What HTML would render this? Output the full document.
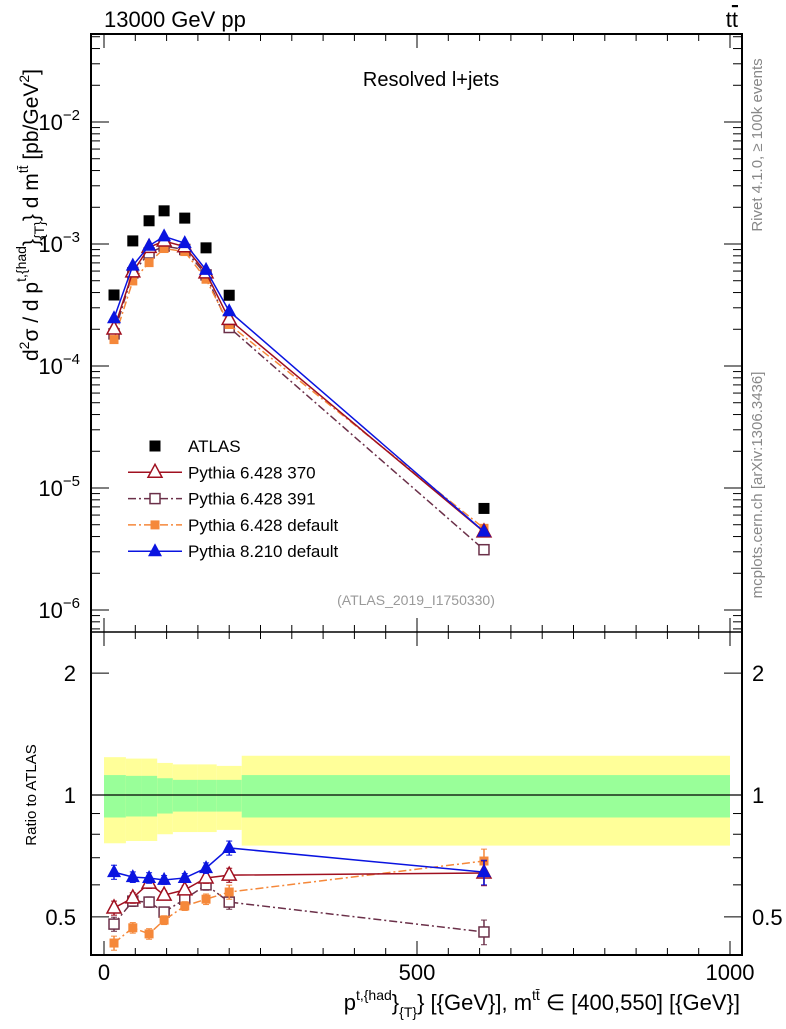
<!DOCTYPE html>
<html><head><meta charset="utf-8"><style>
body{margin:0;background:#fff;}
svg text{font-family:"Liberation Sans",sans-serif;}
</style></head><body>
<svg id="c" width="786" height="1024" xmlns="http://www.w3.org/2000/svg"></svg>
<script>
const xCenters=[16,46,72,96,129,163,200,607];
const binEdges=[0,35,60,85,110,150,180,220,1000];
const atlas=[3.82e-4,1.06e-3,1.55e-3,1.87e-3,1.63e-3,9.3e-4,3.8e-4,6.8e-6];
const bandInner=[0.12,0.115,0.115,0.1,0.09,0.09,0.09,0.12];
const bandOuter=[0.24,0.23,0.23,0.2,0.19,0.19,0.18,0.25];
const r8210=[0.645,0.627,0.624,0.617,0.624,0.66,0.74,0.645];
const r370=[0.526,0.557,0.606,0.566,0.583,0.624,0.634,0.642];
const r391=[0.48,0.547,0.544,0.514,0.553,0.60,0.544,0.459];
const r6def=[0.431,0.47,0.454,0.491,0.532,0.553,0.576,0.687];
const rErr=[0.04,0.03,0.03,0.025,0.025,0.03,0.04,0.07];
const yTicksMain=[-6,-5,-4,-3,-2];
const yTicksRatio=[0.5,1,2];
const xTicks=[0,500,1000];

const S=document.getElementById('c'),NS='http://www.w3.org/2000/svg';
const L=91,R=742,T=34,MB=632,RB=955;
const X=v=>104+v*0.626;
const Ym=v=>122-(Math.log10(v)+2)*122;
const Yr=v=>795-Math.log10(v)*405;
function el(t,a,p){const e=document.createElementNS(NS,t);for(const k in a)e.setAttribute(k,a[k]);(p||S).appendChild(e);return e;}
function tx(x,y,s,sz,anc,fill,p){const e=el('text',{x:x,y:y,'font-size':sz,'text-anchor':anc||'start',fill:fill||'#000'},p);e.textContent=s;return e;}

const gb=el('g',{});


for(let i=0;i<xCenters.length;i++){
  const x0=X(binEdges[i]),x1=X(binEdges[i+1]);
  el('rect',{x:x0,y:Yr(1+bandOuter[i]),width:x1-x0,height:Yr(1-bandOuter[i])-Yr(1+bandOuter[i]),fill:'#ffff99'},gb);
  el('rect',{x:x0,y:Yr(1+bandInner[i]),width:x1-x0,height:Yr(1-bandInner[i])-Yr(1+bandInner[i]),fill:'#99ff99'},gb);
}
el('line',{x1:L,x2:R,y1:Yr(1),y2:Yr(1),stroke:'#000','stroke-width':1.2});

el('rect',{x:L,y:T,width:R-L,height:RB-T,fill:'none',stroke:'#000','stroke-width':2});
el('line',{x1:L,x2:R,y1:MB,y2:MB,stroke:'#000','stroke-width':1.5});

for(let v=0;v<=1000;v+=50){const x=X(v),big=v%500===0?1:0;const h=big?14:7;
  for(const yb of [MB,RB]) el('line',{x1:x,x2:x,y1:yb,y2:yb-h,stroke:'#000'});
  el('line',{x1:x,x2:x,y1:T,y2:T+h,stroke:'#000'});el('line',{x1:x,x2:x,y1:MB,y2:MB+h,stroke:'#000'});}
xTicks.forEach(v=>{const t=tx(X(v),980,String(v),22,'middle');});
yTicksMain.forEach(p=>{
  const y=Ym(Math.pow(10,p));
  el('line',{x1:L,x2:L+18,y1:y,y2:y,stroke:'#000'});el('line',{x1:R,x2:R-18,y1:y,y2:y,stroke:'#000'});
  for(let m=2;m<10;m++){const ym=Ym(m*Math.pow(10,p));if(ym<T)continue;el('line',{x1:L,x2:L+9,y1:ym,y2:ym,stroke:'#000'});el('line',{x1:R,x2:R-9,y1:ym,y2:ym,stroke:'#000'});}
  const t=el('text',{x:80,y:y+8,'font-size':22,'text-anchor':'end'});
  
  t.innerHTML='10<tspan dy="-10" font-size="15">'+(p<0?'\u2212':'')+Math.abs(p)+'</tspan>';
});
for(let m=2;m<10;m++){const ym=Ym(m*1e-7);if(ym<MB){el('line',{x1:L,x2:L+9,y1:ym,y2:ym,stroke:'#000'});el('line',{x1:R,x2:R-9,y1:ym,y2:ym,stroke:'#000'});}}
[0.4,0.5,0.6,0.7,0.8,0.9,1,2].forEach(v=>{const y=Yr(v);const h=(v===0.5||v===1||v===2)?18:9;
  if(y>RB||y<MB)return;el('line',{x1:L,x2:L+h,y1:y,y2:y,stroke:'#000'});el('line',{x1:R,x2:R-h,y1:y,y2:y,stroke:'#000'});});
yTicksRatio.forEach(v=>{const y=Yr(v)+8;
  let t=tx(76,y,String(v),22,'end');
  t=tx(752,y,String(v),22,'start');});

const series=[
 {name:'pythia-6428-391',r:r391,c:'#6b3049',dash:'8,3,2,3',m:'osq'},
 {name:'pythia-6428-default',r:r6def,c:'#f5883a',dash:'8,3,2,3',m:'fsq'},
 {name:'pythia-6428-370',r:r370,c:'#a01020',dash:'',m:'otri'},
 {name:'pythia-8210-default',r:r8210,c:'#0a14e0',dash:'',m:'ftri'}];
function marker(g,m,x,y,c){
  if(m==='osq')el('rect',{x:x-5,y:y-5,width:10,height:10,fill:'#fff',stroke:c,'stroke-width':1.5},g);
  if(m==='fsq')el('rect',{x:x-4.5,y:y-4.5,width:9,height:9,fill:c},g);
  if(m==='otri')el('polygon',{points:`${x},${y-8} ${x-7},${y+5} ${x+7},${y+5}`,fill:'#fff',stroke:c,'stroke-width':1.5},g);
  if(m==='ftri')el('polygon',{points:`${x},${y-8} ${x-7},${y+5} ${x+7},${y+5}`,fill:c},g);
  if(m==='bsq')el('rect',{x:x-5.5,y:y-5.5,width:11,height:11,fill:c},g);
}
series.forEach(s=>{
  const gm=el('g',{});
  const gr=el('g',{});
  const vm=s.r.map((r,i)=>r*atlas[i]);
  el('polyline',{points:xCenters.map((x,i)=>X(x)+','+Ym(vm[i])).join(' '),fill:'none',stroke:s.c,'stroke-width':1.5,'stroke-dasharray':s.dash},gm);
  el('polyline',{points:xCenters.map((x,i)=>X(x)+','+Yr(s.r[i])).join(' '),fill:'none',stroke:s.c,'stroke-width':1.5,'stroke-dasharray':s.dash},gr);
  xCenters.forEach((x,i)=>{
    const y1=Yr(s.r[i]*(1+rErr[i])),y2=Yr(s.r[i]*(1-rErr[i]));
    el('line',{x1:X(x),x2:X(x),y1:y1,y2:y2,stroke:s.c,'stroke-width':1.5},gr);
    el('line',{x1:X(x)-3,x2:X(x)+3,y1:y1,y2:y1,stroke:s.c},gr);el('line',{x1:X(x)-3,x2:X(x)+3,y1:y2,y2:y2,stroke:s.c},gr);
    marker(gm,s.m,X(x),Ym(vm[i]),s.c);marker(gr,s.m,X(x),Yr(s.r[i]),s.c);
  });
});
const ga=el('g',{});
xCenters.forEach((x,i)=>marker(ga,'bsq',X(x),Ym(atlas[i]),'#000'));

const leg=[['ATLAS','#000','','bsq'],['Pythia 6.428 370','#a01020','','otri'],['Pythia 6.428 391','#6b3049','8,3,2,3','osq'],['Pythia 6.428 default','#f5883a','8,3,2,3','fsq'],['Pythia 8.210 default','#0a14e0','','ftri']];
leg.forEach((l,i)=>{const y=446+i*26.3;
  const g=el('g',{});
  if(i>0)el('line',{x1:128,x2:182,y1:y,y2:y,stroke:l[1],'stroke-width':1.5,'stroke-dasharray':l[2]},g);
  marker(g,l[3],155,y,l[1]);tx(188,y+6,l[0],17,'start','#000',g);});

let t;
t=tx(104,27,'13000 GeV pp',22);
t=el('text',{x:738,y:27,'font-size':22,'text-anchor':'end'});t.innerHTML='t<tspan text-decoration="overline">t</tspan>';
t=tx(431,86,'Resolved l+jets',20,'middle');
t=tx(416,605,'(ATLAS_2019_I1750330)',14,'middle','#999');
t=tx(0,0,'Rivet 4.1.0, \u2265 100k events',15,'middle','#888');t.setAttribute('transform','translate(762,145) rotate(-90)');
t=tx(0,0,'mcplots.cern.ch [arXiv:1306.3436]',15,'middle','#888');t.setAttribute('transform','translate(762,485) rotate(-90)');
t=tx(0,0,'Ratio to ATLAS',15,'middle');t.setAttribute('transform','translate(36,795) rotate(-90)');
t=el('text',{'font-size':21,'text-anchor':'middle',transform:'translate(38,215) rotate(-90)'});
t.innerHTML='d<tspan dy="-9" font-size="14">2</tspan><tspan dy="9">σ / d p</tspan><tspan dy="-12" font-size="14">t,{had</tspan><tspan dy="12">}</tspan><tspan dy="6" font-size="14">{T}</tspan><tspan dy="-6">} d m</tspan><tspan dy="-10" font-size="14">tt̄</tspan><tspan dy="10"> [pb/GeV</tspan><tspan dy="-9" font-size="14">2</tspan><tspan dy="9">]</tspan>';

t=el('text',{x:740,y:1010,'font-size':22,'text-anchor':'end'});
t.innerHTML='p<tspan dy="-10" font-size="14">t,{had</tspan><tspan dy="10">}</tspan><tspan dy="7" font-size="14">{T}</tspan><tspan dy="-7">} [{GeV}], m</tspan><tspan dy="-10" font-size="14">tt̄</tspan><tspan dy="10"> ∈ [400,550] [{GeV}]</tspan>';

</script>
</body></html>
